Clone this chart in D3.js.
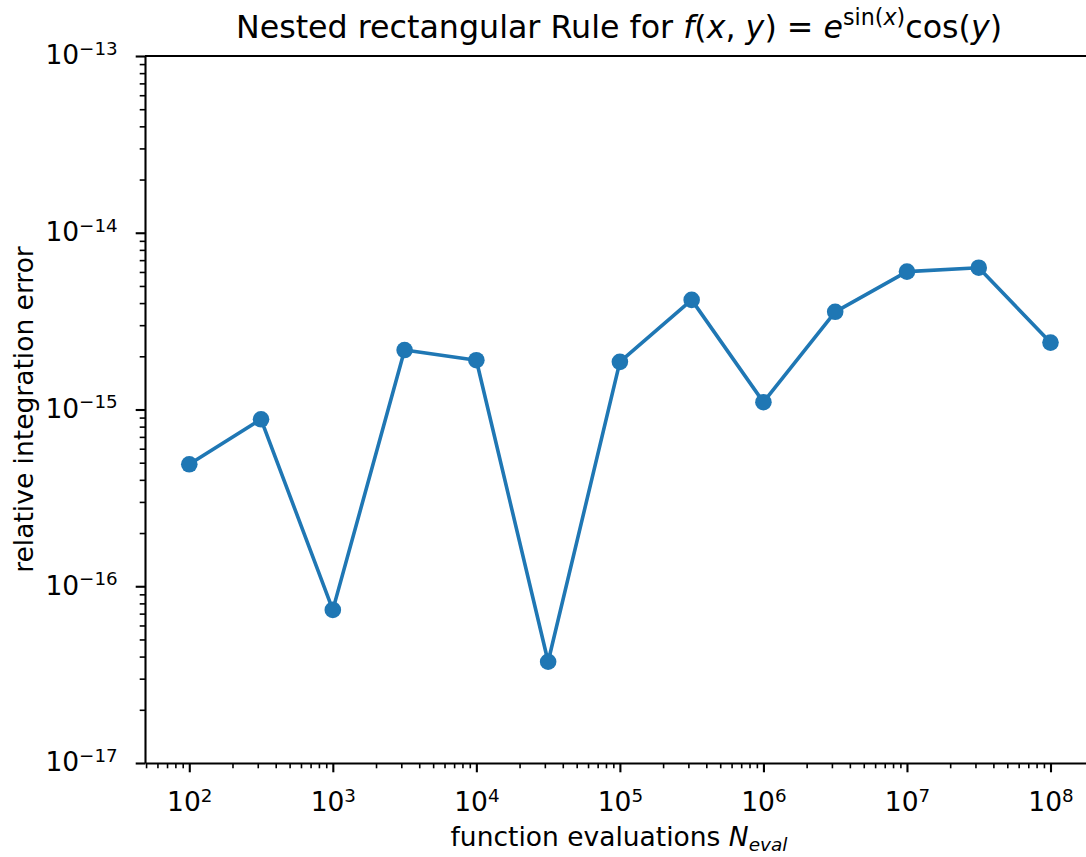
<!DOCTYPE html>
<meta charset="utf-8">
<style>
    body { margin: 0; background: #fff; }
    text { font-family: "DejaVu Sans", sans-serif; fill: #000; }
    .axis path, .axis line { stroke: #000; }
</style>
<body>
<script src="https://d3js.org/d3.v7.min.js"></script>
<script>

    // data
    var nEval = [1e2, 10 ** 2.5, 1e3, 10 ** 3.5, 1e4, 10 ** 4.5, 1e5, 10 ** 5.5, 1e6, 10 ** 6.5, 1e7, 10 ** 7.5, 1e8];
    var relError = [4.9e-16, 8.8e-16, 7.35e-17, 2.17e-15, 1.9e-15, 3.74e-17, 1.86e-15, 4.17e-15, 1.1e-15, 3.57e-15, 6.03e-15, 6.34e-15, 2.39e-15];
    var xMajor = [1e2, 1e3, 1e4, 1e5, 1e6, 1e7, 1e8];
    var yMajor = [1e-17, 1e-16, 1e-15, 1e-14, 1e-13];

    var W = 1086, H = 857;
    var mLeft = 145, mRight = 1095, mTop = 56, mBottom = 763;

    var svg = d3.select("body").append("svg")
        .attr("width", W)
        .attr("height", H);

    var x = d3.scaleLog()
        .domain([10 ** 1.6915, 10 ** 8.31])
        .range([mLeft, mRight]);
    var y = d3.scaleLog()
        .domain([1e-17, 1e-13])
        .range([mBottom, mTop]);

    // minor ticks 2..9 in each decade
    function minors(scale) {
        var d = scale.domain(), out = [];
        for (var e = Math.floor(Math.log10(d[0])); e <= Math.ceil(Math.log10(d[1])); e++) {
            for (var m = 2; m <= 9; m++) {
                var v = m * Math.pow(10, e);
                if (v >= d[0] && v <= d[1]) out.push(v);
            }
        }
        return out;
    }

    var tickFont = 26.5, supFont = 18.3;

    function powLabel(sel) {
        sel.each(function (d) {
            var t = d3.select(this);
            var e = Math.round(Math.log10(d));
            t.text(null);
            t.append("tspan").text("10");
            t.append("tspan")
                .attr("font-size", supFont)
                .attr("dy", -9.5)
                .text(String(e).replace("-", "\u2212"));
        });
    }

    // minor ticks
    svg.append("g")
        .attr("class", "axis")
        .attr("transform", "translate(0," + mBottom + ")")
        .call(d3.axisBottom(x).tickValues(minors(x)).tickSize(5.3).tickFormat(""))
        .call(g => g.select(".domain").remove())
        .selectAll("line").attr("stroke-width", 1.6);

    svg.append("g")
        .attr("class", "axis")
        .attr("transform", "translate(" + mLeft + ",0)")
        .call(d3.axisLeft(y).tickValues(minors(y)).tickSize(5.3).tickFormat(""))
        .call(g => g.select(".domain").remove())
        .selectAll("line").attr("stroke-width", 1.6);

    // major ticks
    var xAxis = svg.append("g")
        .attr("class", "axis")
        .attr("transform", "translate(0," + mBottom + ")")
        .call(d3.axisBottom(x).tickValues(xMajor).tickSize(9.3).tickSizeOuter(0).tickPadding(9));
    xAxis.select(".domain").attr("stroke-width", 2.1);
    xAxis.selectAll("line").attr("stroke-width", 2.1);
    xAxis.selectAll("text")
        .attr("font-size", tickFont)
        .attr("font-family", "DejaVu Sans")
        .attr("dy", null)
        .attr("y", 48)
        .call(powLabel);

    var yAxis = svg.append("g")
        .attr("class", "axis")
        .attr("transform", "translate(" + mLeft + ",0)")
        .call(d3.axisLeft(y).tickValues(yMajor).tickSize(9.3).tickSizeOuter(0).tickPadding(18));
    yAxis.select(".domain").attr("stroke-width", 2.1);
    yAxis.selectAll("line").attr("stroke-width", 2.1);
    yAxis.selectAll("text")
        .attr("font-size", tickFont)
        .attr("font-family", "DejaVu Sans")
        .attr("dy", "0.3em")
        .call(powLabel);

    // top spine
    svg.append("line")
        .attr("x1", mLeft).attr("x2", mRight)
        .attr("y1", mTop).attr("y2", mTop)
        .attr("stroke", "#000")
        .attr("stroke-width", 2.1);

    // line + markers
    var pts = nEval.map((v, i) => [v, relError[i]]);
    svg.append("path")
        .datum(pts)
        .attr("fill", "none")
        .attr("stroke", "#1f77b4")
        .attr("stroke-width", 3.6)
        .attr("stroke-linejoin", "round")
        .attr("d", d3.line().x(d => x(d[0])).y(d => y(d[1])));

    svg.selectAll(".dot")
        .data(pts)
        .enter().append("circle")
        .attr("class", "dot")
        .attr("cx", d => x(d[0]))
        .attr("cy", d => y(d[1]))
        .attr("r", 8.3)
        .attr("fill", "#1f77b4");

    // title
    var title = svg.append("text")
        .attr("x", 619)
        .attr("y", 38)
        .attr("text-anchor", "middle")
        .attr("font-size", 31.7);
    var parts = [
        ["Nested rectangular Rule for ", ""],
        ["f", "i"], ["(", ""], ["x", "i"], [", ", ""], ["y", "i"], [")", ""],
        [" = ", ""], ["e", "i"]
    ];
    parts.forEach(p => title.append("tspan").attr("font-style", p[1] ? "oblique" : null).text(p[0]));
    title.append("tspan").attr("font-size", 22.2).attr("dy", -13).text("sin(");
    title.append("tspan").attr("font-size", 22.2).attr("font-style", "oblique").text("x");
    title.append("tspan").attr("font-size", 22.2).text(")");
    title.append("tspan").attr("dy", 13).text("cos(");
    title.append("tspan").attr("font-style", "oblique").text("y");
    title.append("tspan").text(")");

    // x label
    var xl = svg.append("text")
        .attr("x", 619)
        .attr("y", 846)
        .attr("text-anchor", "middle")
        .attr("font-size", tickFont);
    xl.append("tspan").text("function evaluations ");
    xl.append("tspan").attr("font-style", "oblique").text("N");
    xl.append("tspan").attr("font-style", "oblique").attr("font-size", 18.5).attr("dy", 5).text("eval");

    // y label
    svg.append("text")
        .attr("transform", "translate(33," + ((mTop + mBottom) / 2) + ") rotate(-90)")
        .attr("text-anchor", "middle")
        .attr("font-size", tickFont)
        .text("relative integration error");

</script>
</body>
